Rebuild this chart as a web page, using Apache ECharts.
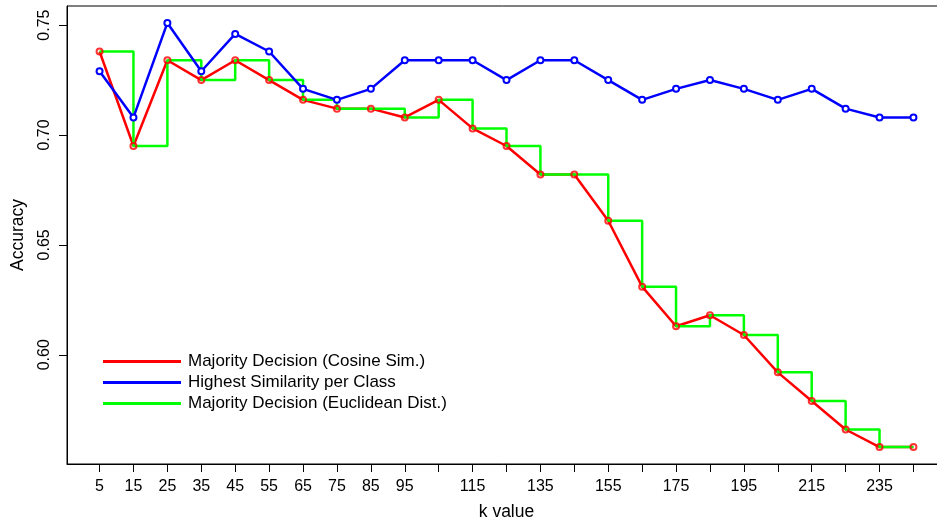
<!DOCTYPE html>
<html>
<head>
<meta charset="utf-8">
<script src="https://cdn.jsdelivr.net/npm/echarts@6/dist/echarts.min.js"></script>
<style>
  html, body { margin: 0; padding: 0; background: #fff; }
  #chart { width: 937px; height: 523px; }
</style>
</head>
<body>
<div id="chart"></div>
<script>
// k values tested
const kValues = [5, 15, 25, 35, 45, 55, 65, 75, 85, 95, 105, 115, 125,
                 135, 145, 155, 165, 175, 185, 195, 205, 215, 225, 235, 245];

// Accuracy per k
const majorityCosine = [0.738, 0.695, 0.734, 0.725, 0.734, 0.725, 0.716, 0.712, 0.712,
                        0.708, 0.716, 0.703, 0.695, 0.682, 0.682, 0.661, 0.631, 0.613,
                        0.618, 0.609, 0.592, 0.579, 0.566, 0.558, 0.558];
const highestSimilarity = [0.729, 0.708, 0.751, 0.729, 0.746, 0.738, 0.721, 0.716, 0.721,
                           0.734, 0.734, 0.734, 0.725, 0.734, 0.734, 0.725, 0.716, 0.721,
                           0.725, 0.721, 0.716, 0.721, 0.712, 0.708, 0.708];
const majorityEuclidean = [0.738, 0.695, 0.734, 0.725, 0.734, 0.725, 0.716, 0.712, 0.712,
                           0.708, 0.716, 0.703, 0.695, 0.682, 0.682, 0.661, 0.631, 0.613,
                           0.618, 0.609, 0.592, 0.579, 0.566, 0.558, 0.558];

// Axis ticks and labels
const xTicks = [5, 15, 25, 35, 45, 55, 65, 75, 85, 95, 105, 115, 125,
                135, 145, 155, 165, 175, 185, 195, 205, 215, 225, 235, 245];
const xTickLabels = [5, 15, 25, 35, 45, 55, 65, 75, 85, 95, 115, 135, 155, 175, 195, 215, 235];
const yTicks = [0.60, 0.65, 0.70, 0.75];

const seriesNames = ['Majority Decision (Cosine Sim.)', 'Highest Similarity per Class',
                     'Majority Decision (Euclidean Dist.)'];

const pairs = (ys) => kValues.map((k, i) => [k, ys[i]]);

const FONT = '"Liberation Sans", Arial, Helvetica, sans-serif';
const chart = echarts.init(document.getElementById('chart'), null, { renderer: 'canvas' });

chart.setOption({
  animation: false,
  backgroundColor: '#ffffff',
  textStyle: { fontFamily: FONT },
  grid: {
    left: 67, top: 6, width: 879, height: 458,
    outerBoundsMode: 'none',
    containLabel: false,
    show: true, borderColor: '#000', borderWidth: 1, backgroundColor: 'transparent'
  },
  legend: {
    orient: 'vertical',
    left: 103, top: 352,
    padding: 0,
    itemWidth: 78, itemHeight: 3,
    itemGap: 2,
    icon: 'rect',
    itemStyle: { borderWidth: 0 },
    data: seriesNames.map((n) => ({ name: n, itemStyle: { borderWidth: 0 } })),
    textStyle: { fontFamily: FONT, fontSize: 17, color: '#000', lineHeight: 19, padding: [0, 0, 0, 2] }
  },
  xAxis: {
    type: 'value',
    min: -4.6, max: 254.6,
    name: 'k value',
    nameLocation: 'middle',
    nameGap: 39,
    nameTextStyle: { fontFamily: FONT, fontSize: 17.5, color: '#000' },
    axisLine: { show: true, onZero: false, lineStyle: { color: '#000', width: 1 } },
    axisTick: { show: true, length: 8, customValues: xTicks, lineStyle: { color: '#000' } },
    axisLabel: { customValues: xTickLabels, margin: 15, fontFamily: FONT, fontSize: 16, color: '#000' },
    splitLine: { show: false }
  },
  yAxis: {
    type: 'value',
    min: 0.5503, max: 0.7587,
    name: 'Accuracy',
    nameLocation: 'middle',
    nameGap: 40,
    nameRotate: 90,
    nameTextStyle: { fontFamily: FONT, fontSize: 17.5, color: '#000' },
    axisLine: { show: true, onZero: false, lineStyle: { color: '#000', width: 1 } },
    axisTick: { show: true, length: 8, customValues: yTicks, lineStyle: { color: '#000' } },
    axisLabel: {
      customValues: yTicks, rotate: 90, margin: 14,
      fontFamily: FONT, fontSize: 16, color: '#000',
      formatter: (v) => v.toFixed(2)
    },
    splitLine: { show: false }
  },
  series: [
    {
      name: seriesNames[0],
      type: 'line',
      data: pairs(majorityCosine),
      showSymbol: false,
      color: '#ff0000',
      lineStyle: { color: '#ff0000', width: 2.5 },
      z: 2
    },
    {
      name: seriesNames[2],
      type: 'line',
      step: 'end',
      data: pairs(majorityEuclidean),
      showSymbol: false,
      color: '#00ff00',
      lineStyle: { color: '#00ff00', width: 2.5 },
      z: 3
    },
    {
      name: seriesNames[1],
      type: 'line',
      data: pairs(highestSimilarity),
      symbol: 'emptyCircle',
      symbolSize: 6,
      showAllSymbol: true,
      color: '#0000ff',
      lineStyle: { color: '#0000ff', width: 2.5 },
      itemStyle: { color: '#0000ff', borderColor: '#0000ff', borderWidth: 2 },
      z: 4
    },
    {
      // open circle markers for the cosine series, drawn above the step line
      name: 'cosine-points',
      type: 'scatter',
      data: pairs(majorityCosine),
      symbol: 'circle',
      symbolSize: 6,
      itemStyle: { color: 'rgba(255,255,255,0)', borderColor: '#ff0000', borderWidth: 2 },
      z: 5
    }
  ]
});
</script>
</body>
</html>
